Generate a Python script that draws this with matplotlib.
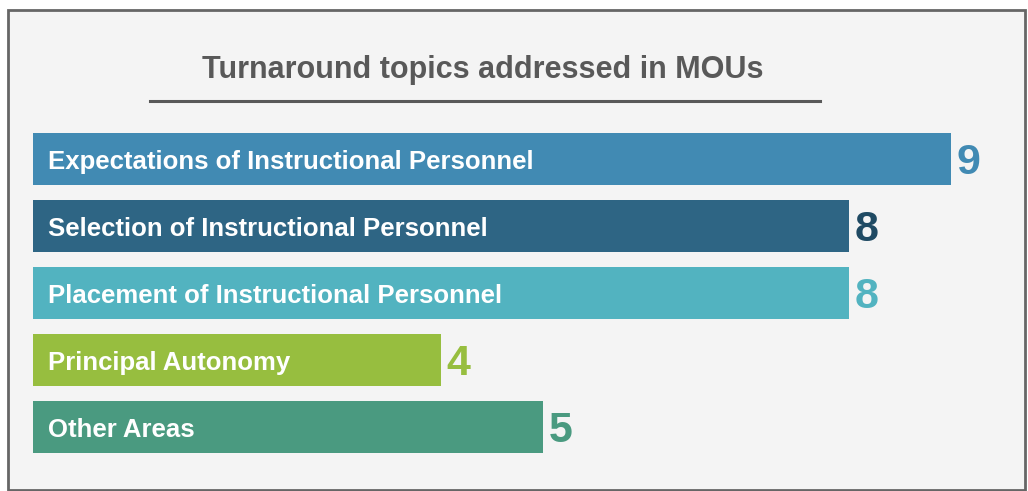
import matplotlib
matplotlib.use("Agg")
import matplotlib.pyplot as plt
from matplotlib.patches import Rectangle
from matplotlib.lines import Line2D

# Chart data
topics = [
    "Expectations of Instructional Personnel",
    "Selection of Instructional Personnel",
    "Placement of Instructional Personnel",
    "Principal Autonomy",
    "Other Areas",
]
counts = [9, 8, 8, 4, 5]
bar_colors = ["#418ab3", "#2e6584", "#52b3c0", "#97be3f", "#4a9a80"]
value_colors = ["#418ab3", "#1f4a63", "#52b3c0", "#97be3f", "#4a9a80"]
title = "Turnaround topics addressed in MOUs"

FONT = ["Liberation Sans", "DejaVu Sans"]
W, H = 1028, 491

fig = plt.figure(figsize=(W / 100, H / 100), dpi=100, facecolor="white")

# Grey panel with border
fig.patches.append(Rectangle((8 / W, 1 - 490 / H), (1025 - 8) / W, (490 - 10) / H,
                             transform=fig.transFigure, facecolor="#f4f4f4",
                             edgecolor="#666666", linewidth=2, zorder=-5))

# Title and underline
fig.text(483 / W, 1 - 70 / H, title, ha="center", va="center", fontsize=22,
         fontweight="bold", color="#595959", family=FONT)
fig.lines.append(Line2D([150 / W, 820 / W], [1 - 101 / H, 1 - 101 / H],
                        transform=fig.transFigure, color="#595959", linewidth=2.2))

# Axes placed so that x=0 sits at pixel 33 and one unit is 102 px
left_px, right_px = 33, 1001
top_px, bot_px = 118.8, 467.2
ax = fig.add_axes([left_px / W, 1 - bot_px / H, (right_px - left_px) / W, (bot_px - top_px) / H])
ax.set_zorder(2)
ax.patch.set_visible(False)
ax.set_xlim(0, (right_px - left_px) / 102)
ax.set_ylim(len(topics) - 0.4, -0.6)
ax.axis("off")

ypos = list(range(len(topics)))
ax.barh(ypos, counts, height=52 / 67, color=bar_colors)

for y, name, val, vc in zip(ypos, topics, counts, value_colors):
    ax.text(0.15, y + 0.04, name, ha="left", va="center", color="white",
            fontsize=18.5, fontweight="bold", family=FONT)
    ax.annotate(str(val), (val, y + 0.06), xytext=(4, 0), textcoords="offset points",
                ha="left", va="center", color=vc, fontsize=31, fontweight="bold",
                family=FONT)

fig.savefig("out.png", dpi=100, facecolor="white")
